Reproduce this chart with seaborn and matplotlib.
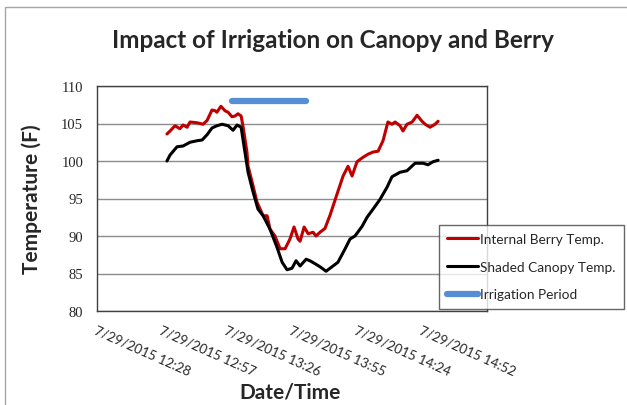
import numpy as np
import pandas as pd
import matplotlib
matplotlib.use("Agg")
import matplotlib.pyplot as plt
import seaborn as sns
from matplotlib.patches import Rectangle

# minutes after 12:28 on 7/29/2015
berry_min = [31.2, 32.6, 34.8, 37.0, 38.4, 40.2, 41.5, 44.6, 47.3, 49.1, 51.3, 52.7, 53.5,
             55.3, 57.1, 58.5, 60.2, 61.6, 62.9, 64.3, 65.1, 66.9, 67.4, 69.2, 71.4, 74.1,
             75.9, 77.2, 79.4, 81.7, 83.9, 86.1, 87.9, 89.7, 90.6, 92.4, 94.2, 96.4, 97.7,
             99.5, 101.7, 104.0, 107.1, 109.8, 112.0, 113.8, 116.0, 118.7, 120.9, 123.2,
             125.4, 127.6, 129.8, 131.6, 133.0, 135.2, 136.5, 138.3, 140.6, 142.8, 145.0,
             146.4, 148.6, 150.8, 152.2]
berry_temp = [103.6, 104.0, 104.7, 104.3, 104.8, 104.5, 105.2, 105.1, 104.9, 105.4, 106.8,
              106.7, 106.5, 107.3, 106.7, 106.5, 105.9, 106.0, 106.3, 106.0, 104.7, 101.2,
              99.3, 97.2, 94.5, 92.7, 92.7, 90.9, 90.0, 88.3, 88.3, 89.6, 91.2, 89.6, 89.3,
              91.2, 90.3, 90.5, 90.0, 90.5, 91.0, 92.8, 95.6, 98.0, 99.3, 98.0, 99.9, 100.5,
              100.9, 101.2, 101.3, 102.7, 105.2, 104.9, 105.2, 104.7, 104.0, 104.9, 105.2,
              106.1, 105.3, 104.9, 104.5, 104.9, 105.3]

canopy_min = [31.2, 32.6, 35.7, 38.4, 41.5, 44.6, 46.9, 49.1, 51.3, 53.5, 55.8, 58.5, 60.7,
              62.5, 64.3, 66.0, 67.4, 69.6, 71.8, 74.1, 77.2, 80.3, 82.6, 84.8, 87.0, 88.8,
              90.6, 93.3, 95.0, 97.3, 99.5, 102.2, 105.3, 107.5, 110.7, 112.9, 115.1, 118.3,
              120.5, 123.2, 126.3, 129.4, 131.6, 135.2, 138.3, 141.9, 145.5, 147.7, 149.9,
              152.2]
canopy_temp = [100.0, 100.8, 101.9, 102.0, 102.5, 102.7, 102.8, 103.5, 104.4, 104.7, 104.9,
               104.7, 104.1, 104.8, 104.5, 101.2, 98.5, 95.9, 93.6, 92.7, 90.9, 88.5, 86.5,
               85.5, 85.7, 86.7, 86.0, 86.9, 86.7, 86.3, 85.9, 85.3, 86.0, 86.5, 88.3, 89.6,
               90.0, 91.3, 92.5, 93.6, 94.9, 96.5, 97.9, 98.5, 98.7, 99.7, 99.7, 99.5, 99.9,
               100.1]

irrigation_min = [60.2, 93.3]
irrigation_temp = [108, 108]

tick_min = [0, 29, 58, 87, 116, 145]
tick_labels = ["7/29/2015 12:28", "7/29/2015 12:57", "7/29/2015 13:26",
               "7/29/2015 13:55", "7/29/2015 14:24", "7/29/2015 14:52"]
y_ticks = [80, 85, 90, 95, 100, 105, 110]

berry = pd.DataFrame({"minute": berry_min, "temp": berry_temp})
canopy = pd.DataFrame({"minute": canopy_min, "temp": canopy_temp})
irrig = pd.DataFrame({"minute": irrigation_min, "temp": irrigation_temp})

sns.set_style("white")
plt.rcParams["font.family"] = ["Lato", "DejaVu Sans"]

W, H = 627, 406
fig = plt.figure(figsize=(W / 100, H / 100), dpi=100)
ax = fig.add_axes([97 / W, 1 - 312 / H, (487 - 97) / W, (312 - 87) / H])

# chart area border
fig.patches.append(Rectangle((5 / W, -0.1), 1.2, 1 - 8 / H + 0.1, transform=fig.transFigure,
                             fill=False, edgecolor="#a6a6a6", linewidth=1.0))

sns.lineplot(data=berry, x="minute", y="temp", ax=ax, color="#c00000", linewidth=2.2,
             label="Internal Berry Temp.")
sns.lineplot(data=canopy, x="minute", y="temp", ax=ax, color="black", linewidth=2.2,
             label="Shaded Canopy Temp.")
sns.lineplot(data=irrig, x="minute", y="temp", ax=ax, color="#558ed5", linewidth=4.5,
             solid_capstyle="round", label="Irrigation Period")

ax.set_xlim(0, 174)
ax.set_ylim(80, 110)
ax.set_yticks(y_ticks)
ax.set_yticklabels([str(v) for v in y_ticks], family=["Liberation Serif", "DejaVu Serif"],
                   fontsize=10.5)
ax.set_xticks(tick_min)
ax.set_xticklabels(tick_labels, rotation=-24, ha="left", va="top", rotation_mode="anchor",
                   fontsize=9.6)
ax.tick_params(axis="x", length=0, pad=9)
ax.tick_params(axis="y", length=0, pad=10)
ax.grid(axis="y", color="#8c8c8c", linewidth=1.0)
ax.grid(axis="x", visible=False)
for s in ax.spines.values():
    s.set_color("#404040")
    s.set_linewidth(1.0)

ax.set_xlabel("Date/Time", fontsize=15, fontweight="bold", labelpad=0)
ax.xaxis.set_label_coords((290 - 97) / (487 - 97), -(383 - 312) / (312 - 87))
ax.set_ylabel("Temperature (F)", fontsize=15, fontweight="bold")
ax.yaxis.set_label_coords(-(97 - 42) / (487 - 97), 0.5)

fig.text(333 / W, 1 - 40 / H, "Impact of Irrigation on Canopy and Berry", fontsize=17.5,
         fontweight="bold", ha="center", va="center")

ax.get_legend().remove()
handles, labels = ax.get_legend_handles_labels()
leg = fig.legend(handles, labels, loc="upper left", bbox_to_anchor=(439 / W, 1 - 226 / H),
                 fontsize=9.8, frameon=True, fancybox=False, handlelength=2.3,
                 handletextpad=0.1, labelspacing=1.15, borderpad=0.6, borderaxespad=0)
leg.get_frame().set_edgecolor("#404040")
leg.get_frame().set_linewidth(1.0)

fig.savefig("out.png", dpi=100)
